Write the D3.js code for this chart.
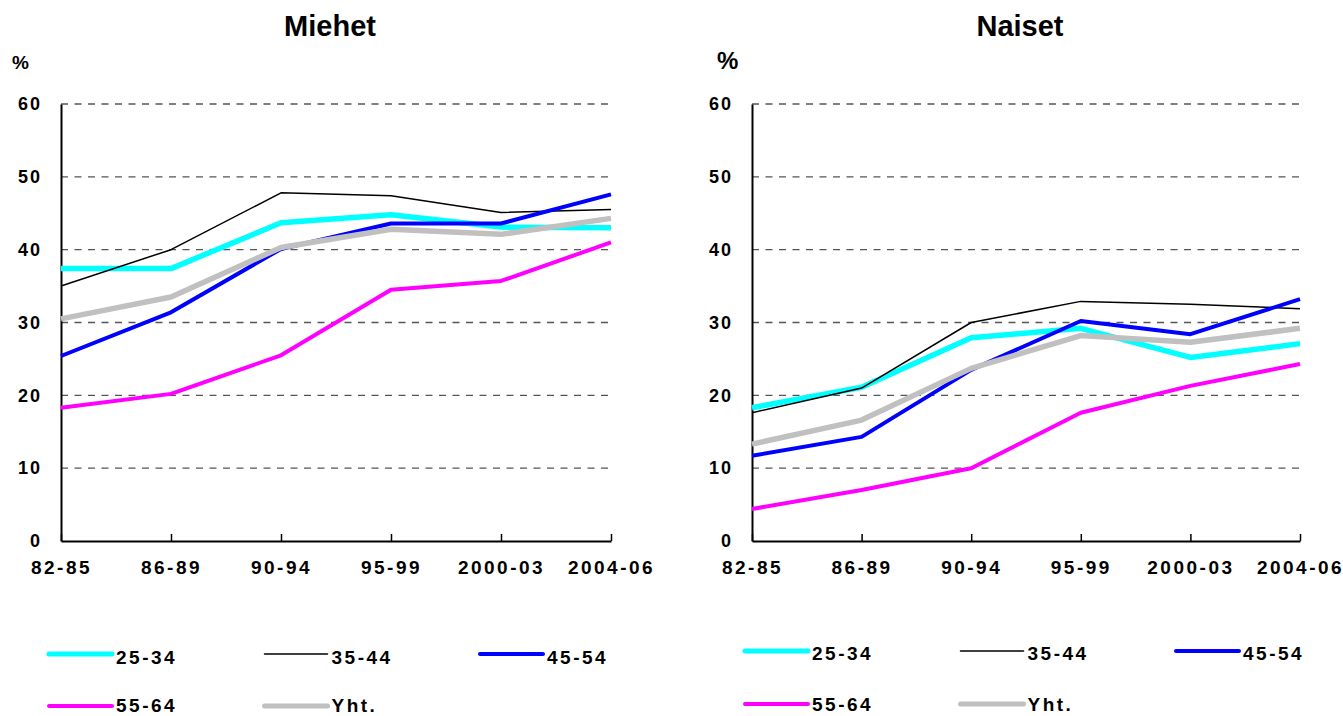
<!DOCTYPE html>
<html>
<head>
<meta charset="utf-8">
<script src="https://cdn.jsdelivr.net/npm/d3@7"></script>
<style>
  body { margin: 0; background: #fff; }
  text { font-family: "Liberation Sans", Arial, sans-serif; font-weight: bold; fill: #000; }
</style>
</head>
<body>
<div id="chart"></div>
<script>
// periods on the x axis
const periods = ["82-85", "86-89", "90-94", "95-99", "2000-03", "2004-06"];
const groups = ["25-34", "35-44", "45-54", "55-64", "Yht."];
const yTicks = [0, 10, 20, 30, 40, 50, 60];

// Miehet (men), % per age group
const men2534 = [37.4, 37.4, 43.7, 44.8, 43.1, 43.0];
const men3544 = [35.0, 40.0, 47.8, 47.4, 45.1, 45.5];
const men4554 = [25.4, 31.4, 40.1, 43.6, 43.6, 47.6];
const men5564 = [18.3, 20.2, 25.5, 34.5, 35.7, 41.0];
const menAll  = [30.5, 33.5, 40.3, 42.8, 42.1, 44.3];

// Naiset (women), % per age group
const women2534 = [18.3, 21.1, 27.9, 29.2, 25.2, 27.1];
const women3544 = [17.6, 21.0, 30.0, 32.9, 32.5, 31.9];
const women4554 = [11.7, 14.3, 23.5, 30.2, 28.4, 33.2];
const women5564 = [4.4, 7.0, 10.0, 17.6, 21.3, 24.3];
const womenAll  = [13.3, 16.6, 23.7, 28.2, 27.3, 29.2];

const colors = ["#00ffff", "#000000", "#0000ff", "#ff00ff", "#c0c0c0"];
const widths = [5.5, 1.5, 4, 4, 5.5];
const legendW = [5, 1.5, 4, 4, 5];

const W = 1343, H = 716;
const svg = d3.select("#chart").append("svg").attr("width", W).attr("height", H);

const y = d3.scaleLinear().domain([0, 60]).range([541, 104]);

function drawPanel(title, series, x0, x1, titleX, pctX, pctSize, legX, legY, legText) {
  const x = d3.scalePoint().domain(periods).range([x0, x1]);
  const g = svg.append("g");

  g.append("text").attr("x", titleX).attr("y", 36).attr("text-anchor", "middle")
    .style("font-size", "29px").text(title);
  g.append("text").attr("x", pctX).attr("y", 69).style("font-size", pctSize + "px").text("%");

  // dashed grid
  g.selectAll(".grid").data(yTicks.filter(d => d > 0)).enter().append("line")
    .attr("x1", x0).attr("x2", x1)
    .attr("y1", d => y(d)).attr("y2", d => y(d))
    .attr("stroke", "#555").attr("stroke-width", 1.3).attr("stroke-dasharray", "7,6.5");

  const yAxis = g.append("g").attr("transform", `translate(${x0},0)`)
    .call(d3.axisLeft(y).tickValues(yTicks).tickSize(0).tickPadding(19));
  yAxis.select(".domain").attr("stroke", "#000").attr("stroke-width", 2);
  yAxis.selectAll("text").style("font-size", "18px").style("letter-spacing", "2px")
    .attr("font-family", null);

  const xAxis = g.append("g").attr("transform", "translate(0,541)")
    .call(d3.axisBottom(x).tickSizeInner(-7).tickSizeOuter(0).tickPadding(20));
  xAxis.select(".domain").attr("stroke", "#000").attr("stroke-width", 2);
  xAxis.selectAll(".tick line").attr("stroke", "#000").attr("stroke-width", 1.5);
  xAxis.selectAll("text").style("font-size", "19px").style("letter-spacing", "2.5px")
    .attr("font-family", null);

  const line = d3.line().x((d, i) => x(periods[i])).y(d => y(d));
  g.selectAll(".series").data(series).enter().append("path")
    .attr("d", d => line(d))
    .attr("fill", "none")
    .attr("stroke", (d, i) => colors[i])
    .attr("stroke-width", (d, i) => widths[i])
    .attr("stroke-linejoin", "round");

  // legend, 3 columns
  groups.forEach((name, i) => {
    const lx = legX + (i % 3) * 215.5;
    const row = Math.floor(i / 3);
    const ly = legY[row];
    g.append("line").attr("x1", lx).attr("x2", lx + 63).attr("y1", ly).attr("y2", ly)
      .attr("stroke", colors[i]).attr("stroke-width", legendW[i]).attr("stroke-linecap", "round");
    g.append("text").attr("x", lx + 67).attr("y", legText[row])
      .style("font-size", "19px").style("letter-spacing", "2.5px").text(name);
  });
}

drawPanel("Miehet", [men2534, men3544, men4554, men5564, menAll],
  61, 611, 330, 12, 19, 49, [654, 706], [664, 712]);
drawPanel("Naiset", [women2534, women3544, women4554, women5564, womenAll],
  752, 1300, 1020, 717, 24, 745, [651, 704], [660, 711]);
</script>
</body>
</html>
